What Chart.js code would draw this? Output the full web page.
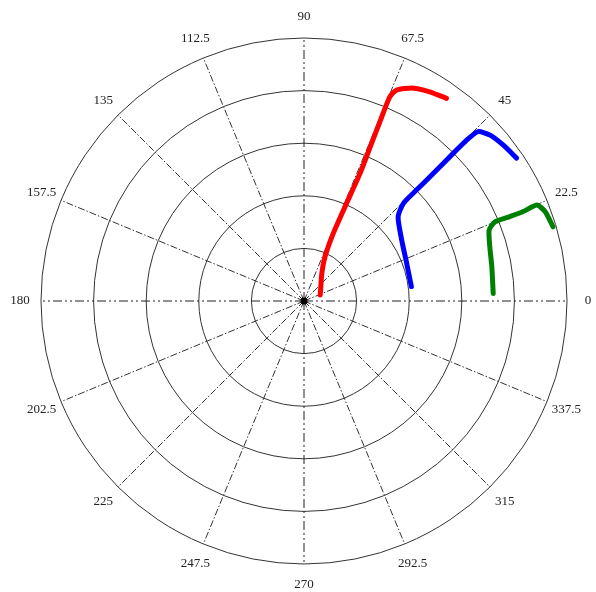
<!DOCTYPE html>
<html>
<head>
<meta charset="utf-8">
<script src="https://cdn.jsdelivr.net/npm/chart.js@4.4.1/dist/chart.umd.min.js"></script>
<style>
    body { margin: 0; background: #fff; }
    canvas { display: block; }
</style>
</head>
<body>
<canvas id="grafico" width="596" height="592"></canvas>
<script>
// Anéis e raios da grade polar
var aneis = [1, 2, 3, 4, 5];
var raioMax = 5;
var angulosGrade = [0, 22.5, 45, 67.5, 90, 112.5, 135, 157.5, 180, 202.5, 225, 247.5, 270, 292.5, 315, 337.5];
var rotulosAngulo = ['0', '22.5', '45', '67.5', '90', '112.5', '135', '157.5', '180', '202.5', '225', '247.5', '270', '292.5', '315', '337.5'];

// Curvas (ângulo em graus, raio)
var anguloVermelho = [20.6, 57.4, 64.6, 66.6, 66.5, 66.3, 66.8, 67.1, 67.2, 66.3, 62.8, 59.0, 54.9];
var raioVermelho = [0.33, 0.63, 0.93, 1.40, 1.95, 2.65, 3.26, 3.80, 4.21, 4.38, 4.55, 4.64, 4.71];

var anguloAzul = [7.6, 20.2, 32.0, 41.8, 44.5, 44.6, 44.6, 44.7, 44.7, 44.2, 41.7, 38.0, 33.9];
var raioAzul = [2.06, 2.08, 2.19, 2.40, 2.65, 3.01, 3.45, 3.99, 4.35, 4.62, 4.74, 4.81, 4.87];

var anguloVerde = [2.3, 10.4, 16.3, 21.0, 22.5, 22.3, 22.2, 22.4, 20.3, 16.6];
var raioVerde = [3.60, 3.63, 3.68, 3.77, 3.93, 4.23, 4.50, 4.79, 4.89, 4.94];

function paraXY(angulos, raios) {
    var pontos = [];
    for (var i = 0; i < angulos.length; i++) {
        var a = angulos[i] * Math.PI / 180;
        pontos.push({ x: raios[i] * Math.cos(a), y: raios[i] * Math.sin(a) });
    }
    return pontos;
}

function serie(nome, pontos, cor) {
    return {
        label: nome,
        data: pontos,
        showLine: true,
        borderColor: cor,
        backgroundColor: cor,
        borderWidth: 5,
        pointRadius: 0,
        tension: 0.2,
        borderCapStyle: 'round',
        borderJoinStyle: 'round'
    };
}

// Plugin que desenha a grade polar usando as escalas do gráfico
var gradePolar = {
    id: 'gradePolar',
    beforeDatasetsDraw: function (chart) {
        var ctx = chart.ctx;
        var sx = chart.scales.x;
        var sy = chart.scales.y;
        var cx = sx.getPixelForValue(0);
        var cy = sy.getPixelForValue(0);
        var escala = sx.getPixelForValue(1) - cx;

        ctx.save();
        // círculos
        ctx.strokeStyle = '#333';
        ctx.lineWidth = 1;
        ctx.setLineDash([]);
        aneis.forEach(function (r) {
            ctx.beginPath();
            ctx.arc(cx, cy, r * escala, 0, Math.PI * 2);
            ctx.stroke();
        });

        // raios
        angulosGrade.forEach(function (g) {
            var a = g * Math.PI / 180;
            var eixo = g % 90 == 0;
            ctx.strokeStyle = eixo ? '#222' : '#333';
            ctx.setLineDash(eixo ? [9, 3, 2, 3, 2, 3] : [7, 2, 1.5, 2]);
            ctx.beginPath();
            ctx.moveTo(cx, cy);
            ctx.lineTo(cx + raioMax * escala * Math.cos(a), cy - raioMax * escala * Math.sin(a));
            ctx.stroke();
        });
        ctx.setLineDash([]);

        // rótulos
        ctx.fillStyle = '#222';
        ctx.font = '13px "Liberation Serif"';
        ctx.textAlign = 'center';
        ctx.textBaseline = 'middle';
        angulosGrade.forEach(function (g, i) {
            var a = g * Math.PI / 180;
            var rr = raioMax * escala + 21;
            ctx.fillText(rotulosAngulo[i], cx + rr * Math.cos(a), cy - rr * Math.sin(a));
        });

        // ponto central
        ctx.fillStyle = '#000';
        ctx.beginPath();
        ctx.arc(cx, cy, 3.5, 0, Math.PI * 2);
        ctx.fill();
        ctx.restore();
    }
};

var config = {
    type: 'scatter',
    data: {
        datasets: [
            serie('vermelho', paraXY(anguloVermelho, raioVermelho), '#ff0000'),
            serie('azul', paraXY(anguloAzul, raioAzul), '#0000ff'),
            serie('verde', paraXY(anguloVerde, raioVerde), '#008000')
        ]
    },
    options: {
        responsive: false,
        animation: false,
        layout: { padding: { left: 41, right: 29, top: 38, bottom: 28 } },
        plugins: { legend: { display: false }, tooltip: { enabled: false } },
        scales: {
            x: { type: 'linear', min: -raioMax, max: raioMax, display: false },
            y: { type: 'linear', min: -raioMax, max: raioMax, display: false }
        }
    },
    plugins: [gradePolar]
};

var meuGrafico = new Chart(document.getElementById('grafico'), config);
</script>
</body>
</html>
